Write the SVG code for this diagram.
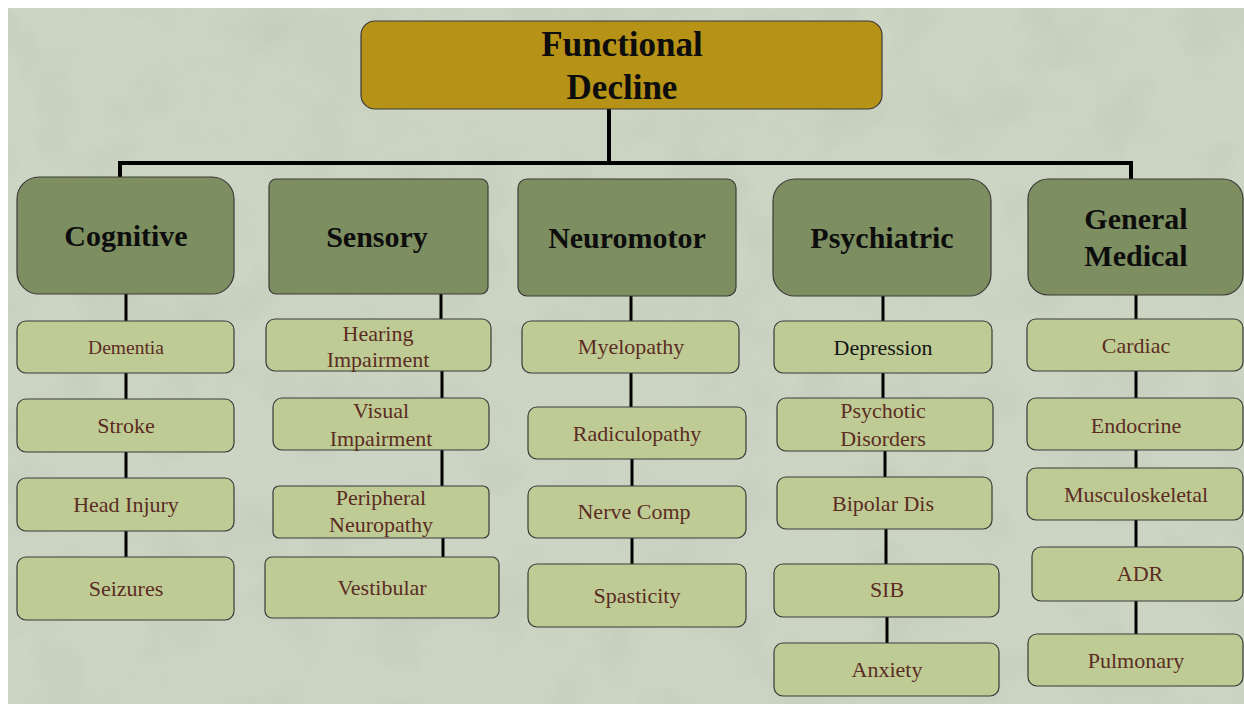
<svg xmlns="http://www.w3.org/2000/svg" width="1244" height="704" viewBox="0 0 1244 704">
  <defs>
    <filter id="mottle" x="0" y="0" width="100%" height="100%">
      <feTurbulence type="fractalNoise" baseFrequency="0.014" numOctaves="4" seed="7" result="n"/>
      <feColorMatrix in="n" type="matrix" values="0 0 0 0 0.40  0 0 0 0 0.45  0 0 0 0 0.38  0 0 0 -1.2 0.7"/>
    </filter>
    <style>
      .root { fill: #b69217; stroke: #3a3a3a; stroke-width: 1.2; }
      .cat { fill: #7d8f61; stroke: #3a3a3a; stroke-width: 1.2; }
      .sub { fill: #bfcb95; stroke: #3a3a3a; stroke-width: 1.2; }
      .rootText { font-family: "Liberation Serif", "DejaVu Serif", serif; font-weight: bold; font-size: 35px; fill: #0d0d0d; text-anchor: middle; }
      .catText { font-family: "Liberation Serif", "DejaVu Serif", serif; font-weight: bold; font-size: 30px; fill: #0d0d0d; text-anchor: middle; }
      .subText { font-family: "Liberation Serif", "DejaVu Serif", serif; font-size: 22px; fill: #5b2c22; text-anchor: middle; }
      .wire { stroke: #000; stroke-width: 3; fill: none; }
      .bus { stroke: #000; stroke-width: 4; fill: none; }
    </style>
  </defs>

  <!-- paper background -->
  <rect x="0" y="0" width="1244" height="704" fill="#ffffff"/>
  <rect x="8" y="8" width="1236" height="696" fill="#ccd5c3"/>
  <rect x="8" y="8" width="1236" height="696" filter="url(#mottle)" opacity="0.35"/>

  <!-- connectors -->
  <g id="connectors">
    <path class="bus" d="M609 109 V163 M118 163 H1133 M120 161 V177 M1131 161 V179"/>
    <path class="wire" d="M126 294 V321 M126 373 V399 M126 452 V478 M126 531 V557"/>
    <path class="wire" d="M441 294 V319 M442 371 V398 M442 450 V486 M443 538 V557"/>
    <path class="wire" d="M631 296 V321 M631 373 V407 M632 459 V486 M632 538 V564"/>
    <path class="wire" d="M883 296 V321 M883 373 V398 M885 451 V477 M886 529 V564 M887 617 V643"/>
    <path class="wire" d="M1136 295 V319 M1136 371 V398 M1136 450 V468 M1136 520 V547 M1136 601 V634"/>
  </g>

  <!-- root -->
  <g id="functional-decline">
    <rect class="root" x="361" y="21" width="521" height="88" rx="14"/>
    <text class="rootText" x="622" y="56">Functional</text>
    <text class="rootText" x="622" y="99">Decline</text>
  </g>

  <!-- Cognitive column -->
  <g id="cognitive">
    <rect class="cat" x="17" y="177" width="217" height="117" rx="22"/>
    <text class="catText" x="126" y="246">Cognitive</text>
  </g>
  <g id="dementia">
    <rect class="sub" x="17" y="321" width="217" height="52" rx="9"/>
    <text class="subText" x="126" y="354" style="font-size:19.5px">Dementia</text>
  </g>
  <g id="stroke">
    <rect class="sub" x="17" y="399" width="217" height="53" rx="9"/>
    <text class="subText" x="126" y="433">Stroke</text>
  </g>
  <g id="head-injury">
    <rect class="sub" x="17" y="478" width="217" height="53" rx="9"/>
    <text class="subText" x="126" y="512">Head Injury</text>
  </g>
  <g id="seizures">
    <rect class="sub" x="17" y="557" width="217" height="63" rx="9"/>
    <text class="subText" x="126" y="596">Seizures</text>
  </g>

  <!-- Sensory column -->
  <g id="sensory">
    <rect class="cat" x="269" y="179" width="219" height="115" rx="7"/>
    <text class="catText" x="377" y="247">Sensory</text>
  </g>
  <g id="hearing-impairment">
    <rect class="sub" x="266" y="319" width="225" height="52" rx="9"/>
    <text class="subText" x="378" y="341">Hearing</text>
    <text class="subText" x="378" y="367">Impairment</text>
  </g>
  <g id="visual-impairment">
    <rect class="sub" x="273" y="398" width="216" height="52" rx="9"/>
    <text class="subText" x="381" y="418">Visual</text>
    <text class="subText" x="381" y="446">Impairment</text>
  </g>
  <g id="peripheral-neuropathy">
    <rect class="sub" x="273" y="486" width="216" height="52" rx="6"/>
    <text class="subText" x="381" y="505">Peripheral</text>
    <text class="subText" x="381" y="532">Neuropathy</text>
  </g>
  <g id="vestibular">
    <rect class="sub" x="265" y="557" width="234" height="61" rx="7"/>
    <text class="subText" x="382" y="595">Vestibular</text>
  </g>

  <!-- Neuromotor column -->
  <g id="neuromotor">
    <rect class="cat" x="518" y="179" width="218" height="117" rx="9"/>
    <text class="catText" x="627" y="248">Neuromotor</text>
  </g>
  <g id="myelopathy">
    <rect class="sub" x="522" y="321" width="217" height="52" rx="9"/>
    <text class="subText" x="631" y="354">Myelopathy</text>
  </g>
  <g id="radiculopathy">
    <rect class="sub" x="528" y="407" width="218" height="52" rx="9"/>
    <text class="subText" x="637" y="441">Radiculopathy</text>
  </g>
  <g id="nerve-comp">
    <rect class="sub" x="528" y="486" width="218" height="52" rx="9"/>
    <text class="subText" x="634" y="519">Nerve Comp</text>
  </g>
  <g id="spasticity">
    <rect class="sub" x="528" y="564" width="218" height="63" rx="9"/>
    <text class="subText" x="637" y="603">Spasticity</text>
  </g>

  <!-- Psychiatric column -->
  <g id="psychiatric">
    <rect class="cat" x="773" y="179" width="218" height="117" rx="22"/>
    <text class="catText" x="882" y="248">Psychiatric</text>
  </g>
  <g id="depression">
    <rect class="sub" x="774" y="321" width="218" height="52" rx="9"/>
    <text class="subText" x="883" y="355" style="fill:#151515">Depression</text>
  </g>
  <g id="psychotic-disorders">
    <rect class="sub" x="777" y="398" width="216" height="53" rx="9"/>
    <text class="subText" x="883" y="418">Psychotic</text>
    <text class="subText" x="883" y="446">Disorders</text>
  </g>
  <g id="bipolar-dis">
    <rect class="sub" x="777" y="477" width="215" height="52" rx="9"/>
    <text class="subText" x="883" y="511">Bipolar Dis</text>
  </g>
  <g id="sib">
    <rect class="sub" x="774" y="564" width="225" height="53" rx="9"/>
    <text class="subText" x="887" y="597">SIB</text>
  </g>
  <g id="anxiety">
    <rect class="sub" x="774" y="643" width="225" height="53" rx="9"/>
    <text class="subText" x="887" y="677">Anxiety</text>
  </g>

  <!-- General Medical column -->
  <g id="general-medical">
    <rect class="cat" x="1028" y="179" width="215" height="116" rx="20"/>
    <text class="catText" x="1136" y="229">General</text>
    <text class="catText" x="1136" y="266">Medical</text>
  </g>
  <g id="cardiac">
    <rect class="sub" x="1027" y="319" width="216" height="52" rx="9"/>
    <text class="subText" x="1136" y="353">Cardiac</text>
  </g>
  <g id="endocrine">
    <rect class="sub" x="1027" y="398" width="216" height="52" rx="9"/>
    <text class="subText" x="1136" y="433">Endocrine</text>
  </g>
  <g id="musculoskeletal">
    <rect class="sub" x="1027" y="468" width="216" height="52" rx="9"/>
    <text class="subText" x="1136" y="502">Musculoskeletal</text>
  </g>
  <g id="adr">
    <rect class="sub" x="1032" y="547" width="211" height="54" rx="9"/>
    <text class="subText" x="1140" y="581">ADR</text>
  </g>
  <g id="pulmonary">
    <rect class="sub" x="1028" y="634" width="215" height="52" rx="9"/>
    <text class="subText" x="1136" y="668">Pulmonary</text>
  </g>
</svg>
